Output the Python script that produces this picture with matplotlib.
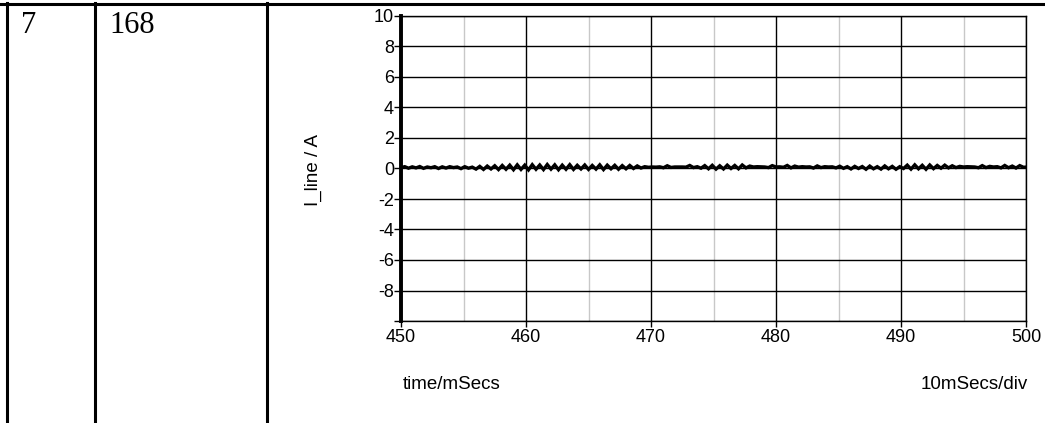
import numpy as np
import matplotlib
matplotlib.use("Agg")
import matplotlib.pyplot as plt
from matplotlib.ticker import MultipleLocator

# Line current samples, 0.3 ms apart, starting at 450 ms
t_start = 450.0
t_step = 0.3
i_line = [
    0.06, 0.12, 0.02, 0.11, 0.04, 0.13, 0.01, 0.10, 0.05, 0.12,
    0.00, 0.11, 0.03, 0.12, 0.06, 0.10, -0.01, 0.12, 0.02, 0.09,
    -0.04, 0.14, -0.06, 0.16, -0.03, 0.18, -0.07, 0.20, -0.05, 0.22,
    -0.08, 0.24, -0.06, 0.22, -0.09, 0.25, -0.05, 0.23, -0.07, 0.26,
    -0.04, 0.24, -0.08, 0.22, -0.05, 0.25, -0.06, 0.21, -0.03, 0.23,
    -0.06, 0.20, -0.04, 0.24, -0.07, 0.22, -0.02, 0.21, -0.05, 0.19,
    -0.02, 0.20, 0.00, 0.17, 0.03, 0.12, 0.08, 0.10, 0.09, 0.11,
    0.05, 0.18, 0.07, 0.10, 0.10, 0.10, 0.09, 0.20, 0.06, 0.12,
    0.02, 0.19, -0.02, 0.21, -0.04, 0.18, -0.03, 0.22, 0.00, 0.20,
    -0.02, 0.23, 0.04, 0.16, 0.10, 0.12, 0.11, 0.10, 0.06, 0.19,
    0.10, 0.11, 0.08, 0.20, 0.04, 0.16, 0.09, 0.12, 0.10, 0.11,
    0.03, 0.17, 0.06, 0.12, 0.10, 0.11, 0.04, 0.15, 0.01, 0.12,
    -0.03, 0.14, 0.00, 0.13, -0.05, 0.16, -0.02, 0.12, -0.04, 0.17,
    -0.02, 0.14, -0.05, 0.12, 0.00, 0.22, -0.04, 0.24, -0.02, 0.21,
    -0.05, 0.23, -0.01, 0.20, 0.02, 0.22, 0.04, 0.18, 0.06, 0.14,
    0.10, 0.12, 0.11, 0.10, 0.05, 0.19, 0.06, 0.14, 0.10, 0.12,
    0.04, 0.20, 0.05, 0.16, 0.03, 0.19, 0.08, 0.10,
]
time_ms = t_start + t_step * np.arange(len(i_line))

x_ticks = [450, 460, 470, 480, 490, 500]
y_ticks = [-8, -6, -4, -2, 0, 2, 4, 6, 8, 10]
row_cells = ["7", "168"]

W, H = 1045, 423
fig = plt.figure(figsize=(W / 100, H / 100), dpi=100)
fig.patch.set_facecolor("white")


def px_x(x):
    return x / W


def px_y(y):
    return 1 - y / H


# table frame around the plot
for x in (7, 95, 267):
    fig.add_artist(plt.Line2D([px_x(x), px_x(x)], [px_y(3.5), 0], color="black", lw=2.2))
fig.add_artist(plt.Line2D([0, 1], [px_y(4.5), px_y(4.5)], color="black", lw=2.2))

fig.text(px_x(21), px_y(33), row_cells[0], family="Liberation Serif", fontsize=22,
         ha="left", va="baseline")
fig.text(px_x(109), px_y(33), row_cells[1], family="Liberation Serif", fontsize=22,
         ha="left", va="baseline")

# scope-style trace
ax = fig.add_axes([px_x(401), px_y(321), (1026 - 401) / W, (321 - 16) / H])
ax.set_xlim(450, 500)
ax.set_ylim(-10, 10)

ax.xaxis.set_minor_locator(MultipleLocator(5))
ax.grid(which="minor", axis="x", color="#c8c8c8", lw=1.0)
ax.grid(which="major", axis="x", color="black", lw=1.0)
ax.grid(which="major", axis="y", color="black", lw=1.0)
ax.set_axisbelow(True)

ax.plot(time_ms, i_line, color="black", lw=2.4, solid_joinstyle="miter")

ax.set_xticks(x_ticks)
ax.set_xticklabels([str(v) for v in x_ticks])
ax.set_yticks(y_ticks + [-10])
ax.set_yticklabels([str(v) for v in y_ticks] + [""])
ax.tick_params(axis="x", which="major", length=4, width=1, pad=2, labelsize=13)
ax.tick_params(axis="x", which="minor", length=0)
ax.tick_params(axis="y", length=5, width=1, pad=0, labelsize=13)
for lab in ax.get_xticklabels() + ax.get_yticklabels():
    lab.set_family("Liberation Sans")

for side in ("top", "right", "bottom"):
    ax.spines[side].set_linewidth(1.0)
ax.spines["left"].set_linewidth(2.8)

fig.text(px_x(313), px_y(170), "I_line / A", family="Liberation Sans", fontsize=13.5,
         rotation=90, ha="center", va="center")
fig.text(px_x(403), px_y(384), "time/mSecs", family="Liberation Sans", fontsize=13.5,
         ha="left", va="center")
fig.text(px_x(1028), px_y(384), "10mSecs/div", family="Liberation Sans", fontsize=13.5,
         ha="right", va="center")

fig.savefig("out.png", dpi=100, facecolor="white")
